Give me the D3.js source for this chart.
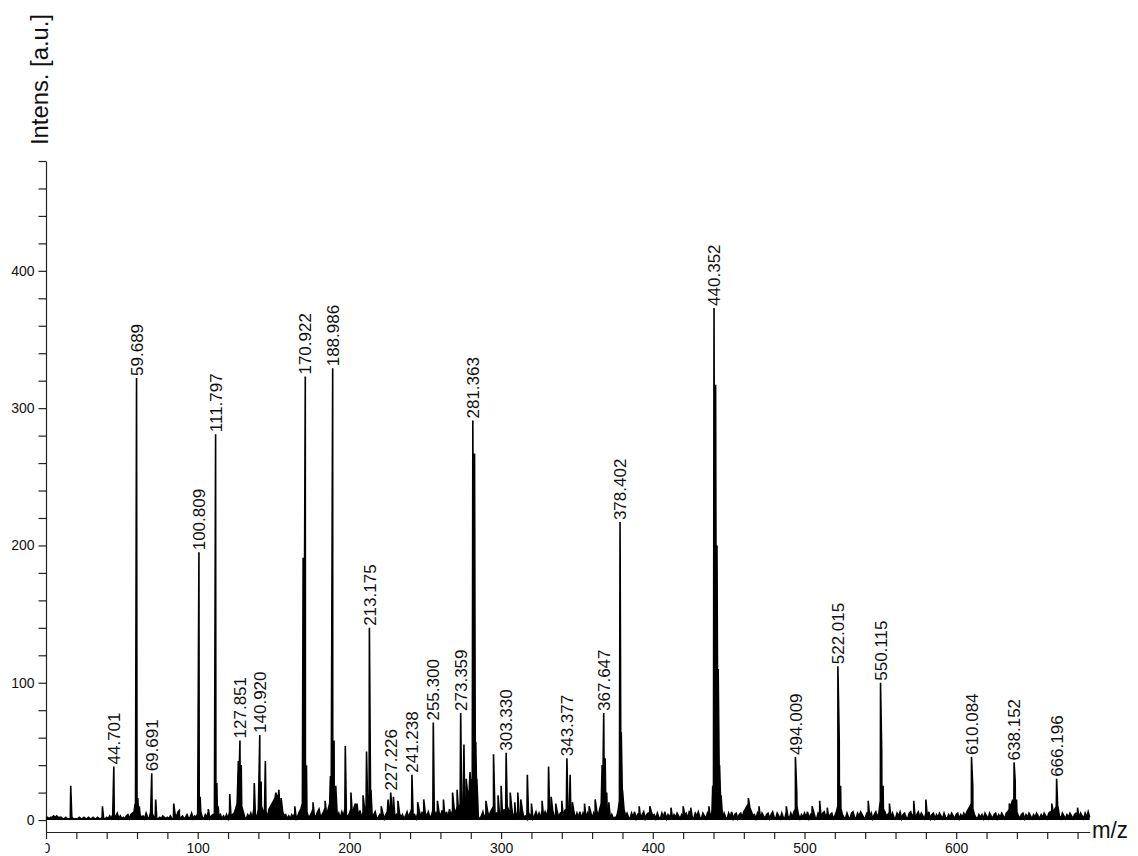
<!DOCTYPE html>
<html>
<head>
<meta charset="utf-8">
<script src="https://cdn.jsdelivr.net/npm/d3@7"></script>
<style>
  body { margin: 0; background: #fff; }
  svg { display: block; }
  text { font-family: "Liberation Sans", Arial, Helvetica, sans-serif; fill: #111; }
</style>
</head>
<body>
<svg id="chart" width="1138" height="856"></svg>
<script>
// Annotated peaks: m/z and intensity [a.u.]
const labelledMz = [44.701, 59.689, 69.691, 100.809, 111.797, 127.851, 140.920, 170.922, 188.986,
  213.175, 227.226, 241.238, 255.300, 273.359, 281.363, 303.330, 343.377, 367.647, 378.402,
  440.352, 494.009, 522.015, 550.115, 610.084, 638.152, 666.196];
const labelledIntensity = [39, 322, 34, 195, 281, 58, 62, 323, 329,
  140, 20, 33, 71, 78, 291, 49, 45, 78, 217,
  373, 46, 112, 100, 46, 42, 30];

// Unannotated peaks and shoulders
const otherMz = [16.3, 37.2, 58.8, 60.5, 61.5, 72.3, 84.2, 87.9, 101.6, 107, 112.6, 113.5, 121.1,
  126.8, 128.7, 137.3, 141.8, 144.6, 151.5, 153.5, 155, 164, 169.5, 170.2, 171.7, 176, 184, 187.5,
  189.9, 191, 197.3, 201, 205, 209, 211.3, 214.2, 221, 225.5, 229, 232, 245, 249, 258, 262, 268,
  271, 275.5, 277, 279.5, 282.5, 283.3, 284, 290, 295, 298, 300, 306, 309, 311, 313, 317.3, 320,
  327, 331.3, 333, 336, 340, 345.5, 347, 355, 358, 362, 366.6, 368.6, 369.6, 371, 379.2, 380, 391,
  398, 412, 420, 425, 437, 439.5, 441.4, 442.3, 443.1, 444, 445, 463, 470, 488, 494.9, 505, 510,
  515, 522.9, 523.8, 542, 550.9, 551.8, 556, 572, 580, 610.9, 635, 638.9, 639.8, 663, 667, 680];
const otherIntensity = [25, 10, 12, 16, 10, 15, 12, 7, 17, 8, 27, 10, 19,
  43, 40, 27, 28, 43, 20, 22, 16, 10, 191, 120, 40, 13, 14, 32,
  58, 25, 54, 20, 12, 18, 50, 22, 10, 15, 17, 14, 13, 15, 14, 15, 20,
  22, 55, 30, 35, 267, 57, 30, 14, 48, 18, 25, 20, 13, 20, 15, 33, 12,
  14, 39, 17, 12, 14, 33, 13, 12, 10, 15, 40, 45, 20, 13, 64, 22, 10,
  10, 9, 10, 9, 10, 25, 317, 200, 110, 40, 18, 16, 10, 10, 20, 10, 14,
  9, 58, 25, 14, 50, 25, 12, 14, 15, 25, 12, 28, 15, 12, 10, 9];

// Baseline noise, sampled every 1 m/z from m/z 0
const noiseStart = 0;
const noiseStep = 1;
const noiseIntensity = [
  1,2,1,2,2,3,2,3,2,2,2,1,1,2,1,1,1,2,1,1, 1,1,2,1,1,2,1,1,2,1,1,2,1,1,2,1,1,2,1,1,
  2,1,3,1,4,2,3,5,1,3,1,2,1,3,4,1,4,5,6,8, 7,6,4,2,3,1,5,2,1,6,5,2,3,1,1,2,1,3,2,1,
  2,1,3,1,1,5,2,6,1,2,3,1,2,4,1,2,5,1,3,2, 5,8,6,2,1,4,2,6,1,3,4,1,6,5,2,4,1,3,1,4,
  1,6,2,4,5,8,12,18,20,10,6,2,1,4,2,5,1,8,4,2, 8,12,10,7,4,6,2,8,10,12,14,16,18,15,12,10,6,3,4,1,
  3,1,4,2,5,1,3,6,8,12,20,14,6,2,3,5,8,2,3,6, 8,2,4,6,9,3,8,12,14,10,8,6,2,5,1,6,3,8,4,2,
  5,8,3,9,12,4,2,7,1,6,8,10,12,18,8,3,4,6,1,2, 4,1,5,1,4,6,8,10,9,7,2,4,1,5,2,4,1,3,6,2,
  5,8,3,4,1,5,7,2,6,1,5,3,6,2,3,7,2,5,1,6, 2,7,3,1,6,2,8,3,7,9,4,10,5,12,8,14,10,16,18,22,
  26,30,40,28,10,2,1,3,6,1,5,7,2,6,8,10,4,5,2,3, 6,2,8,3,10,7,3,9,2,5,1,6,3,4,7,2,3,1,6,2,
  5,1,3,6,2,5,1,7,2,6,3,8,5,2,7,3,1,6,2,5, 6,2,7,8,10,7,3,2,6,1,5,2,6,1,5,2,1,5,2,6,
  1,5,2,7,3,8,12,20,15,10,6,3,1,4,1,2,2,6,14,18, 12,8,3,5,2,1,5,2,6,1,4,5,1,4,6,1,4,5,1,6,
  3,4,1,5,2,1,5,2,6,1,4,2,5,1,4,2,5,3,1,4, 2,4,5,1,6,5,2,1,5,3,6,2,1,5,3,1,5,2,1,6,
  20,18,14,10,6,2,1,5,2,1,5,2,6,1,4,5,1,4,5,2, 6,8,10,12,9,6,3,4,1,5,2,1,5,3,1,4,5,1,4,6,
  2,1,5,3,1,5,2,1,6,3,1,5,2,6,8,10,4,1,4,2, 5,2,6,1,4,5,6,2,1,5,3,1,5,6,2,5,1,4,5,1,
  3,6,10,12,8,4,2,1,5,2,1,5,6,2,1,5,3,6,4,2, 1,5,6,2,5,1,4,6,2,5,14,10,8,6,3,4,6,1,5,2,
  1,5,3,6,1,4,5,2,1,5,6,2,5,1,4,6,2,5,3,1, 5,2,6,1,4,5,1,4,2,5,3,1,5,2,1,4,2,5,3,1,
  4,5,1,4,2,5,3,6,8,10,12,8,4,2,1,4,2,4,1,5, 3,1,5,3,1,4,5,1,4,2,5,3,1,5,6,8,10,14,12,9,
  6,3,1,4,5,1,4,2,5,3,1,4,2,5,3,1,4,2,5,3, 1,5,6,3,5,8,10,6,3,1,5,3,1,4,2,5,3,1,4,5,
  3,1,5,3,1,5,2,6,2
];

// Axis ticks
const xTickValues = d3.range(0, 681, 20);
const xLabelStep = 100;
const yTickValues = d3.range(0, 481, 20);
const yLabelStep = 100;

const svg = d3.select("#chart");
const x = d3.scaleLinear().domain([0, 688]).range([46, 1089.7]);
const y = d3.scaleLinear().domain([-8.7, 480]).range([832, 161]);

// Build the profile: noise samples plus peak points, ordered by m/z
const profile = [];
noiseIntensity.forEach((v, i) => profile.push({ mz: noiseStart + i * noiseStep, i: v }));
otherMz.forEach((m, k) => profile.push({ mz: m, i: otherIntensity[k] }));
labelledMz.forEach((m, k) => profile.push({ mz: m, i: labelledIntensity[k] }));
profile.sort((a, b) => a.mz - b.mz);

// X axis (labels start at the plot's left edge)
const clip = svg.append("defs").append("clipPath").attr("id", "xlabClip");
clip.append("rect").attr("x", 45.5).attr("y", -20).attr("width", 1100).attr("height", 60);

const xAxis = svg.append("g")
  .attr("transform", "translate(0,832)")
  .attr("clip-path", "url(#xlabClip)")
  .call(d3.axisBottom(x).tickValues(xTickValues).tickSize(7).tickSizeOuter(0).tickPadding(4)
    .tickFormat(d => d % xLabelStep === 0 ? d : ""));
xAxis.selectAll("text").style("font-size", "14px").attr("fill", "#111");
xAxis.selectAll("path, line").attr("stroke", "#222").attr("stroke-width", 1.2);

// Y axis
const yAxis = svg.append("g")
  .attr("transform", "translate(46,0)")
  .call(d3.axisLeft(y).tickValues(yTickValues).tickSize(7.5).tickSizeOuter(0).tickPadding(4)
    .tickFormat(d => d % yLabelStep === 0 ? d : ""));
yAxis.selectAll("text").style("font-size", "14px").attr("fill", "#111");
yAxis.selectAll("path, line").attr("stroke", "#222").attr("stroke-width", 1.2);

// Spectrum: dense profile shaded down to the zero line, then traced
svg.append("path")
  .datum(profile)
  .attr("fill", "#000")
  .attr("stroke", "none")
  .attr("d", d3.area().x(d => x(d.mz)).y0(y(0)).y1(d => y(d.i)));

svg.append("path")
  .datum(profile)
  .attr("fill", "none")
  .attr("stroke", "#000")
  .attr("stroke-width", 1.6)
  .attr("stroke-linejoin", "miter")
  .attr("d", d3.line().x(d => x(d.mz)).y(d => y(d.i)));

// Peak annotations
svg.append("g").selectAll("text")
  .data(labelledMz)
  .join("text")
  .attr("transform", (m, k) => `translate(${x(m)},${y(labelledIntensity[k]) - 2}) rotate(-90)`)
  .attr("dy", "0.36em")
  .attr("text-anchor", "start")
  .style("font-size", "17px")
  .text(m => m.toFixed(3));

// Axis titles
svg.append("text")
  .attr("transform", "translate(48,145) rotate(-90)")
  .attr("text-anchor", "start")
  .attr("textLength", 131)
  .attr("lengthAdjust", "spacingAndGlyphs")
  .style("font-size", "23px")
  .text("Intens. [a.u.]");

svg.append("text")
  .attr("x", 1092)
  .attr("y", 838)
  .attr("textLength", 36)
  .attr("lengthAdjust", "spacingAndGlyphs")
  .style("font-size", "24px")
  .text("m/z");
</script>
</body>
</html>
